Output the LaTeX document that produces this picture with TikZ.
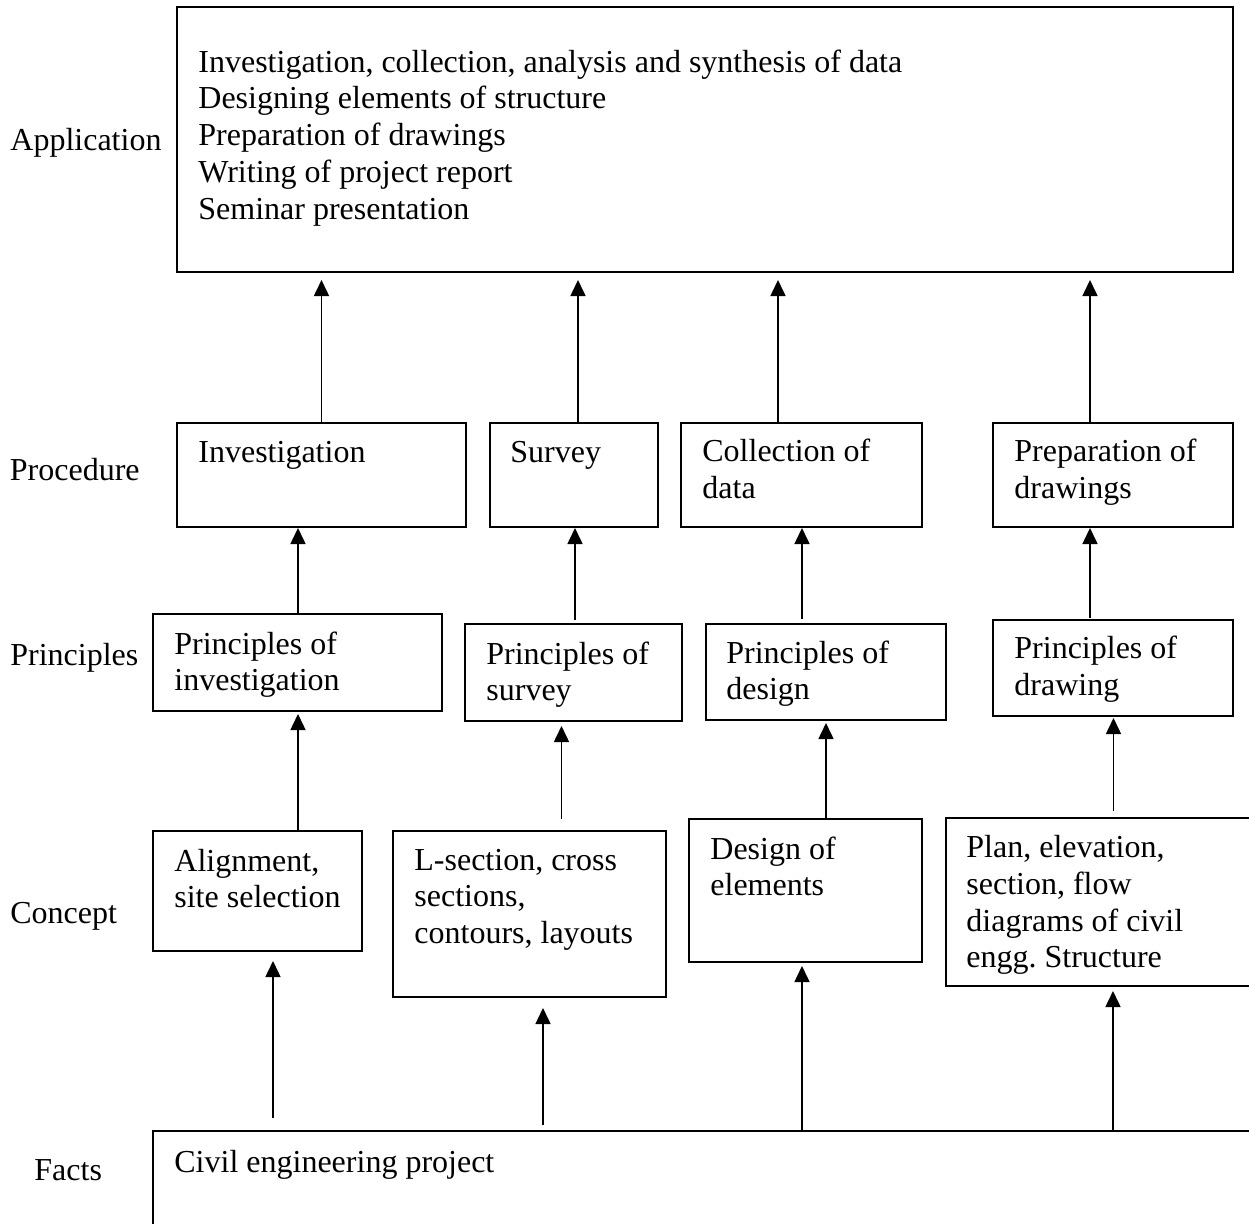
\documentclass[tikz,border=0pt]{standalone}
\usepackage{fontspec}
\setmainfont{Liberation Serif}
\usetikzlibrary{arrows.meta, fit}

\tikzset{
    box/.style={draw, line width=1pt, inner sep=0pt},
    lbl/.style={anchor=base west, inner sep=0pt,
        font=\fontsize{16}{18.4}\selectfont},
    txt/.style={lbl, align=flush left, text width=#1},
    txt/.default=100pt,
    arr/.style={line width=0.8pt, -{Triangle[length=8pt, width=7.5pt]}},
}

\begin{document}
\frenchspacing
\begin{tikzpicture}[x=0.5pt, y=-0.5pt]
    \useasboundingbox (0,0) rectangle (1249,1223);
    \clip (0,0) rectangle (1249,1223);
    % level names
    \node[lbl] (l-app) at (10,150) {Application};
    \node[lbl] (l-proc) at (9.5,480) {Procedure};
    \node[lbl] (l-prin) at (10,665) {Principles};
    \node[lbl] (l-con) at (10,923) {Concept};
    \node[lbl] (l-fact) at (34,1180) {Facts};
    % application
    \node[box, fit={(177,7) (1233,272)}] (app) {};
    \node[txt=370pt] (t-app) at (198,72) {Investigation, collection, analysis and synthesis of data\\
        Designing elements of structure\\Preparation of drawings\\
        Writing of project report\\Seminar presentation};
    % procedure
    \node[box, fit={(177,423) (466,527)}] (inv) {};
    \node[box, fit={(489.5,423) (658,527)}] (sur) {};
    \node[box, fit={(681,423) (922,527)}] (col) {};
    \node[box, fit={(993,423) (1233,527)}] (prep) {};
    \node[txt] (t-inv) at (198,462) {Investigation};
    \node[txt=60pt] (t-sur) at (510,462) {Survey};
    \node[txt] (t-col) at (702,461.5) {Collection of\\data};
    \node[txt=105pt] (t-prep) at (1014,461.5) {Preparation of\\drawings};
    % principles
    \node[box, fit={(153,614) (442,711)}] (pinv) {};
    \node[box, fit={(465,624) (682,721)}] (psur) {};
    \node[box, fit={(705.5,624) (945.5,720)}] (pdes) {};
    \node[box, fit={(993,620) (1233,716)}] (pdrw) {};
    \node[txt] (t-pinv) at (174,654) {Principles of\\investigation};
    \node[txt] (t-psur) at (486,664) {Principles of\\survey};
    \node[txt] (t-pdes) at (726,663) {Principles of\\design};
    \node[txt] (t-pdrw) at (1014,658.5) {Principles of\\drawing};
    % concept
    \node[box, fit={(153,831) (362,951)}] (ali) {};
    \node[box, fit={(393,831) (665.5,997)}] (lsec) {};
    \node[box, fit={(689,819) (921.5,962)}] (des) {};
    \node[box, fit={(945.5,818) (1260,986)}] (plan) {};
    \node[txt] (t-ali) at (174,871) {Alignment,\\site selection};
    \node[txt=120pt] (t-lsec) at (414,870) {L-section, cross\\sections,\\contours, layouts};
    \node[txt=90pt] (t-des) at (710,859) {Design of\\elements};
    \node[txt=120pt] (t-plan) at (966,857.5) {Plan, elevation,\\section, flow\\diagrams of civil\\engg. Structure};
    % facts
    \node[box, fit={(153,1131) (1260,1240)}] (fact) {};
    \node[txt=200pt] (t-fact) at (174,1172) {Civil engineering project};
    % arrows: procedure -> application
    \foreach \b/\x in {inv/321.5, sur/578, col/778, prep/1090}
        \draw[arr, shorten >=3.5pt] (\b.north -| \x,0) -- (app.south -| \x,0);
    % arrows: principles -> procedure
    \foreach \a/\b/\x/\s/\e in {pinv/inv/298/0pt/0pt, psur/sur/575/1.5pt/0pt,
            pdes/col/802/2pt/0pt, pdrw/prep/1090/0.5pt/0pt}
        \draw[arr, shorten <=\s, shorten >=\e] (\a.north -| \x,0) -- (\b.south -| \x,0);
    % arrows: concept -> principles
    \foreach \a/\b/\x/\s/\e in {ali/pinv/298/0pt/1pt, lsec/psur/561.5/5.5pt/2pt,
            des/pdes/826/0pt/1pt, plan/pdrw/1113.5/3pt/0.5pt}
        \draw[arr, shorten <=\s, shorten >=\e] (\a.north -| \x,0) -- (\b.south -| \x,0);
    % arrows: facts -> concept
    \foreach \b/\x/\s/\e in {ali/273/6pt/4.5pt, lsec/543/2.5pt/5pt,
            des/802/0pt/1.5pt, plan/1113/0pt/2pt}
        \draw[arr, shorten <=\s, shorten >=\e] (fact.north -| \x,0) -- (\b.south -| \x,0);
\end{tikzpicture}
\end{document}
